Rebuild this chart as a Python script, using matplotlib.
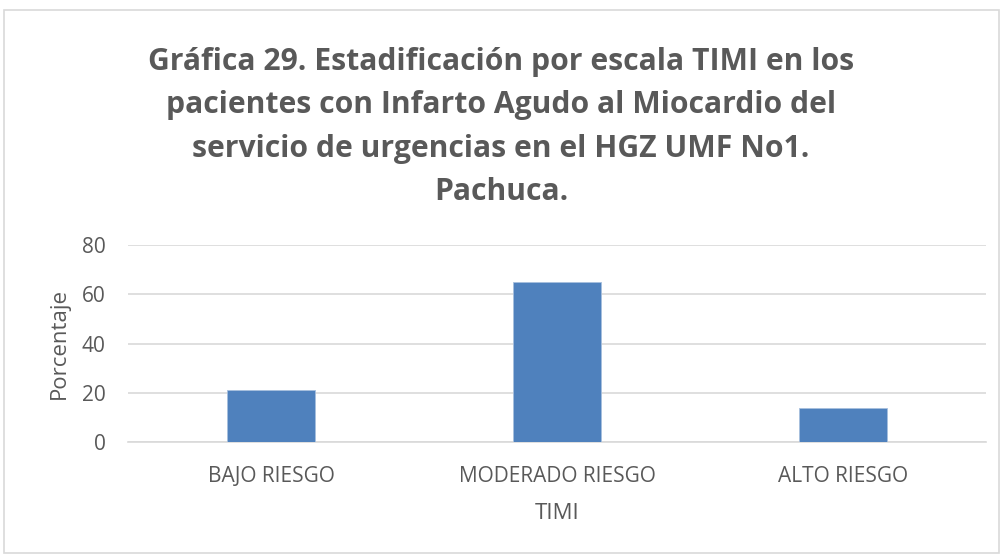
import matplotlib
matplotlib.use("Agg")
import matplotlib.pyplot as plt
from matplotlib.patches import Rectangle

categories = ["BAJO RIESGO", "MODERADO RIESGO", "ALTO RIESGO"]
porcentaje = [21, 65, 14]
y_ticks = [0, 20, 40, 60, 80]
title = ("Gráfica 29. Estadificación por escala TIMI en los\n"
         "pacientes con Infarto Agudo al Miocardio del\n"
         "servicio de urgencias en el HGZ UMF No1.\n"
         "Pachuca.")

plt.rcParams['font.family'] = ['Open Sans', 'DejaVu Sans']
text_gray = "#595959"

fig = plt.figure(figsize=(10.02, 5.54), dpi=100)
fig.patch.set_facecolor("white")

# chart frame
fig.add_artist(Rectangle((4 / 1002, 1 / 554), 995 / 1002, 543 / 554,
                         transform=fig.transFigure, fill=False,
                         edgecolor="#d9d9d9", linewidth=1.2))

ax = fig.add_axes([128 / 1002, 1 - 442 / 554, (986 - 128) / 1002, (442 - 245) / 554])
x = range(len(categories))
ax.bar(x, porcentaje, width=0.31, color="#4f81bd", edgecolor="#a7bfde",
       linewidth=0.6, zorder=3)
ax.set_xlim(-0.5, len(categories) - 0.5)
ax.set_ylim(0, 80)
ax.set_yticks(y_ticks)
ax.set_xticks(list(x))
ax.set_xticklabels(categories)
ax.grid(axis="y", color="#d9d9d9", linewidth=1.2, zorder=0)
for s in ["top", "right", "left"]:
    ax.spines[s].set_visible(False)
ax.spines["bottom"].set_color("#d9d9d9")
ax.spines["bottom"].set_linewidth(1.2)
ax.tick_params(axis="both", length=0, colors=text_gray)
ax.tick_params(axis="y", labelsize=15, pad=16)
ax.tick_params(axis="x", labelsize=15, pad=17)
ax.set_xlabel("TIMI", fontsize=16, color=text_gray, labelpad=12)
ax.set_ylabel("Porcentaje", fontsize=16, color=text_gray, labelpad=9)

fig.text(0.5, 1 - 127 / 554, title, ha="center", va="center",
         fontsize=21.7, fontweight="bold", color=text_gray, linespacing=1.58)

fig.savefig("out.png", dpi=100)
